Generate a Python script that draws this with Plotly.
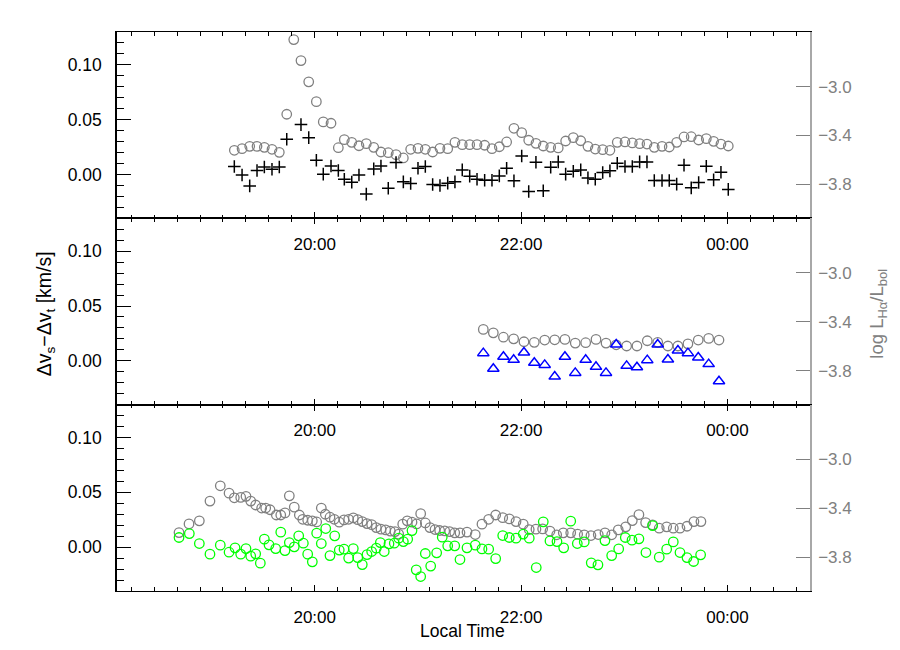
import plotly.graph_objects as go

# ---- data (time in decimal hours, 24.0 = 00:00 next day) ----
top_time = [19.221, 19.296, 19.370, 19.441, 19.512, 19.586, 19.657, 19.729, 19.797, 19.867,
            19.942, 20.016, 20.083, 20.158, 20.229, 20.287, 20.359, 20.429, 20.500, 20.572,
            20.642, 20.713, 20.788, 20.859, 20.930, 21.001, 21.072, 21.143, 21.214, 21.289,
            21.359, 21.430, 21.502, 21.573, 21.647, 21.718, 21.789, 21.860, 21.931, 22.006,
            22.074, 22.144, 22.215, 22.287, 22.360, 22.432, 22.506, 22.578, 22.648, 22.719,
            22.791, 22.861, 22.932, 23.007, 23.078, 23.149, 23.220, 23.291, 23.366, 23.436,
            23.508, 23.579, 23.649, 23.721, 23.795, 23.866, 23.937, 24.008]
top_lha = [-3.521, -3.508, -3.489, -3.489, -3.497, -3.513, -3.538, -3.226, -2.615, -2.787,
           -2.961, -3.123, -3.289, -3.300, -3.500, -3.434, -3.456, -3.484, -3.467, -3.497,
           -3.535, -3.541, -3.557, -3.584, -3.513, -3.505, -3.513, -3.535, -3.505, -3.508,
           -3.456, -3.475, -3.475, -3.475, -3.480, -3.508, -3.492, -3.453, -3.341, -3.377,
           -3.439, -3.464, -3.486, -3.497, -3.502, -3.445, -3.418, -3.443, -3.489, -3.511,
           -3.516, -3.521, -3.456, -3.453, -3.461, -3.467, -3.470, -3.497, -3.489, -3.494,
           -3.456, -3.412, -3.410, -3.437, -3.426, -3.448, -3.470, -3.486]
top_dv_time = [19.221, 19.296, 19.370, 19.441, 19.512, 19.586, 19.657, 19.729, 19.867,
               19.942, 20.016, 20.083, 20.158, 20.229, 20.287, 20.359, 20.429, 20.500, 20.572,
               20.642, 20.713, 20.788, 20.859, 20.930, 21.001, 21.072, 21.143, 21.214, 21.289,
               21.359, 21.430, 21.502, 21.573, 21.647, 21.718, 21.789, 21.860, 21.931, 22.006,
               22.074, 22.144, 22.215, 22.287, 22.360, 22.432, 22.506, 22.578, 22.648, 22.719,
               22.791, 22.861, 22.932, 23.007, 23.078, 23.149, 23.220, 23.291, 23.366, 23.436,
               23.508, 23.579, 23.649, 23.721, 23.795, 23.866, 23.937, 24.008]
top_dv = [0.0073, -0.0004, -0.0104, 0.0036, 0.0069, 0.0048, 0.0069, 0.0321, 0.0455,
          0.0336, 0.0130, 0.0003, 0.0078, 0.0036, -0.0043, -0.0070, -0.0004, -0.0179, 0.0051,
          0.0078, -0.0125, 0.0109, -0.0067, -0.0082, 0.0057, 0.0073, -0.0091, -0.0100, -0.0079,
          -0.0067, 0.0042, -0.0015, -0.0043, -0.0052, -0.0052, -0.0013, 0.0057, -0.0058, 0.0169,
          -0.0155, 0.0112, -0.0149, 0.0066, 0.0115, 0.0003, 0.0030, 0.0042, -0.0031, -0.0043,
          0.0018, 0.0033, 0.0103, 0.0073, 0.0073, 0.0115, 0.0115, -0.0055, -0.0055, -0.0055,
          -0.0088, 0.0085, -0.0122, -0.0073, 0.0075, -0.0049, 0.0021, -0.0136]

mid_time = [21.634, 21.731, 21.829, 21.928, 22.028, 22.128, 22.229, 22.326, 22.425, 22.525,
            22.626, 22.726, 22.823, 22.922, 23.023, 23.123, 23.223, 23.324, 23.423, 23.520,
            23.617, 23.717, 23.818, 23.918]
mid_lha = [-3.462, -3.490, -3.526, -3.539, -3.563, -3.568, -3.549, -3.547, -3.544, -3.574,
           -3.571, -3.544, -3.574, -3.588, -3.598, -3.598, -3.555, -3.568, -3.598, -3.598,
           -3.580, -3.549, -3.536, -3.549]
mid_dv = [0.0070, -0.0073, 0.0037, 0.0009, 0.0076, -0.0018, -0.0037, -0.0144, 0.0037, -0.0110,
          0.0009, -0.0055, -0.0110, 0.0149, -0.0046, -0.0058, 0.0006, 0.0149, 0.0012, 0.0094,
          0.0070, 0.0030, -0.0030, -0.0186]

bot_lha_time = [18.685, 18.782, 18.882, 18.985, 19.085, 19.170, 19.221, 19.283, 19.334, 19.380,
                19.428, 19.486, 19.525, 19.567, 19.628, 19.671, 19.712, 19.754, 19.802, 19.851,
                19.884, 19.932, 19.977, 20.019, 20.064, 20.103, 20.148, 20.190, 20.238, 20.284,
                20.329, 20.374, 20.417, 20.461, 20.507, 20.552, 20.597, 20.642, 20.688, 20.733,
                20.778, 20.814, 20.853, 20.897, 20.943, 20.988, 21.027, 21.072, 21.117, 21.166,
                21.211, 21.260, 21.308, 21.357, 21.408, 21.476, 21.556, 21.621, 21.686, 21.754,
                21.822, 21.886, 21.951, 22.021, 22.079, 22.144, 22.209, 22.280, 22.345, 22.409,
                22.481, 22.548, 22.612, 22.677, 22.748, 22.813, 22.878, 22.942, 23.014, 23.078,
                23.142, 23.207, 23.275, 23.339, 23.411, 23.475, 23.540, 23.608, 23.675, 23.743]
bot_lha = [-3.600, -3.529, -3.504, -3.342, -3.217, -3.277, -3.315, -3.312, -3.303, -3.342,
           -3.374, -3.399, -3.399, -3.413, -3.456, -3.456, -3.439, -3.299, -3.391, -3.456,
           -3.491, -3.499, -3.504, -3.513, -3.399, -3.450, -3.474, -3.491, -3.515, -3.496,
           -3.491, -3.480, -3.494, -3.510, -3.526, -3.535, -3.559, -3.572, -3.578, -3.588,
           -3.592, -3.613, -3.531, -3.504, -3.515, -3.529, -3.445, -3.521, -3.559, -3.575,
           -3.583, -3.586, -3.592, -3.602, -3.602, -3.596, -3.616, -3.531, -3.491, -3.456,
           -3.478, -3.488, -3.510, -3.531, -3.575, -3.572, -3.570, -3.588, -3.618, -3.602,
           -3.602, -3.613, -3.618, -3.624, -3.616, -3.602, -3.618, -3.578, -3.553, -3.502,
           -3.453, -3.518, -3.537, -3.564, -3.553, -3.564, -3.564, -3.548, -3.510, -3.510]
bot_dv_time = [18.685, 18.785, 18.882, 18.985, 19.085, 19.170, 19.228, 19.283, 19.334, 19.380,
               19.428, 19.473, 19.512, 19.557, 19.622, 19.671, 19.712, 19.754, 19.802, 19.845,
               19.890, 19.932, 19.977, 20.019, 20.064, 20.107, 20.148, 20.194, 20.238, 20.284,
               20.329, 20.374, 20.417, 20.461, 20.507, 20.552, 20.597, 20.636, 20.674, 20.720,
               20.771, 20.814, 20.859, 20.901, 20.943, 20.984, 21.027, 21.072, 21.124, 21.182,
               21.236, 21.289, 21.357, 21.408, 21.476, 21.556, 21.621, 21.686, 21.754, 21.822,
               21.886, 21.951, 22.021, 22.079, 22.147, 22.215, 22.280, 22.348, 22.413, 22.481,
               22.545, 22.612, 22.680, 22.745, 22.813, 22.878, 22.946, 23.010, 23.075, 23.142,
               23.210, 23.275, 23.339, 23.411, 23.475, 23.540, 23.608, 23.672, 23.740]
bot_dv = [0.0088, 0.0124, 0.0033, -0.0064, 0.0018, -0.0046, -0.0006, -0.0064, -0.0013, -0.0082,
          -0.0061, -0.0146, 0.0073, 0.0021, -0.0013, 0.0137, -0.0031, 0.0042, 0.0003, 0.0103,
          0.0036, -0.0064, -0.0134, 0.0128, 0.0033, 0.0170, -0.0077, 0.0103, -0.0027, -0.0018,
          -0.0100, -0.0013, -0.0095, -0.0159, -0.0068, -0.0040, -0.0009, 0.0042, -0.0040, 0.0030,
          0.0036, 0.0082, 0.0051, 0.0073, 0.0151, -0.0207, -0.0268, -0.0058, -0.0173, -0.0052,
          0.0091, 0.0012, 0.0012, -0.0113, -0.0006, 0.0018, -0.0016, -0.0018, -0.0104, 0.0106,
          0.0088, 0.0082, 0.0119, 0.0082, -0.0186, 0.0231, 0.0057, 0.0051, -0.0006, 0.0237,
          0.0033, 0.0048, -0.0143, -0.0161, 0.0060, -0.0077, -0.0016, 0.0088, 0.0064, 0.0076,
          -0.0049, 0.0197, -0.0091, -0.0018, 0.0048, -0.0049, -0.0095, -0.0131, -0.0070]

time_tickvals = [20, 22, 24]
time_ticktext = ["20:00", "22:00", "00:00"]
dv_tickvals = [0.0, 0.05, 0.10]
dv_ticktext = ["0.00", "0.05", "0.10"]
lha_tickvals = [-3.8, -3.4, -3.0]

for a, b in [(top_time, top_lha), (top_dv_time, top_dv), (mid_time, mid_lha), (mid_time, mid_dv),
             (bot_lha_time, bot_lha), (bot_dv_time, bot_dv)]:
    assert len(a) == len(b), (len(a), len(b))

X_RANGE = [18.084, 24.8]
DV_RANGE = [-0.04, 0.13]
LHA_RANGE = [-4.078, -2.553]
GRAY = "#808080"
FONT = "Liberation Sans"

# panel 1 = top, 3 = bottom; primary y (right, log L) and overlay y (left, dv)
panels = [
    dict(lha=(top_time, top_lha), dv=(top_dv_time, top_dv),
         dv_marker=dict(symbol="cross-thin-open", size=9, color="black",
                        line=dict(color="black", width=1.5))),
    dict(lha=(mid_time, mid_lha), dv=(mid_time, mid_dv),
         dv_marker=dict(symbol="triangle-up-open", size=10, color="#0000ff",
                        line=dict(color="#0000ff", width=1.5))),
    dict(lha=(bot_lha_time, bot_lha), dv=(bot_dv_time, bot_dv),
         dv_marker=dict(symbol="circle-open", size=9.5, color="#00ff00",
                        line=dict(color="#00ff00", width=1.3))),
]
domains = [[2 / 3, 1.0], [1 / 3, 2 / 3], [0.0, 1 / 3]]

fig = go.Figure()
layout = {}
for i, p in enumerate(panels, start=1):
    xname = "x" if i == 1 else f"x{i}"
    yl = "y" if i == 1 else f"y{i}"
    yd = f"y{i + 3}"
    fig.add_trace(go.Scatter(
        x=p["lha"][0], y=p["lha"][1], mode="markers", xaxis=xname, yaxis=yl,
        marker=dict(symbol="circle-open", size=9.5, color=GRAY, line=dict(color=GRAY, width=1.3)),
        showlegend=False,
    ))
    fig.add_trace(go.Scatter(
        x=p["dv"][0], y=p["dv"][1], mode="markers", xaxis=xname, yaxis=yd,
        marker=p["dv_marker"], showlegend=False,
    ))

    xkey = "xaxis" if i == 1 else f"xaxis{i}"
    layout[xkey] = dict(
        domain=[0, 1], anchor=yl, range=X_RANGE, automargin=False,
        tickmode="array", tickvals=time_tickvals, ticktext=time_ticktext,
        ticks="inside", ticklen=6, tickwidth=1.2, tickcolor="black",
        showline=True, linecolor="black", linewidth=1.3, mirror="ticks",
        showgrid=False, zeroline=False, ticklabelstandoff=10,
        tickfont=dict(family=FONT, size=17, color="black"),
        minor=dict(tick0=20, dtick=2 / 9, ticks="inside", ticklen=3.5, tickwidth=1.0,
                   tickcolor="black", showgrid=False),
    )
    ylkey = "yaxis" if i == 1 else f"yaxis{i}"
    layout[ylkey] = dict(
        domain=domains[i - 1], anchor=xname, side="right", range=LHA_RANGE, automargin=False,
        tickmode="array", tickvals=lha_tickvals, ticks="inside", ticklen=14,
        tickwidth=1.3, tickcolor=GRAY, showline=True, linecolor="#a8a8a8", linewidth=1.6,
        showgrid=False, zeroline=False, ticklabelstandoff=3, tickformat=".1f",
        tickfont=dict(family=FONT, size=17, color=GRAY),
    )
    layout[f"yaxis{i + 3}"] = dict(
        overlaying=yl, anchor=xname, side="left", range=DV_RANGE, automargin=False,
        tickmode="array", tickvals=dv_tickvals, ticktext=dv_ticktext,
        ticks="inside", ticklen=14, tickwidth=1.3, tickcolor="black",
        showline=True, linecolor="black", linewidth=1.6,
        showgrid=False, zeroline=False, ticklabelstandoff=10,
        tickfont=dict(family=FONT, size=17.5, color="black"),
        minor=dict(tick0=0, dtick=0.01, ticks="inside", ticklen=7, tickwidth=1.0,
                   tickcolor="black", showgrid=False),
    )

# the page body keeps an 8px margin, so the figure is sized to fit inside it
fig.update_layout(
    **layout,
    width=884, height=634,
    margin=dict(l=109, r=82, t=24, b=51, autoexpand=False),
    paper_bgcolor="white", plot_bgcolor="white",
    font=dict(family=FONT, size=17, color="black"),
    annotations=[
        dict(text="Δv<sub>s</sub>−Δv<sub>t</sub> [km/s]", xref="paper", yref="paper",
             x=-0.103, y=0.496, xanchor="center", yanchor="middle", textangle=-90,
             showarrow=False, font=dict(family=FONT, size=19.5, color="black")),
        dict(text="log L<sub>Hα</sub>/L<sub>bol</sub>", xref="paper", yref="paper",
             x=1.098, y=0.496, xanchor="center", yanchor="middle", textangle=-90,
             showarrow=False, font=dict(family=FONT, size=18.5, color=GRAY)),
        dict(text="Local Time", xref="paper", yref="paper", x=0.498, y=-0.072,
             xanchor="center", yanchor="middle",
             showarrow=False, font=dict(family=FONT, size=17.5, color="black")),
    ],
)

fig.write_html("out.html")
